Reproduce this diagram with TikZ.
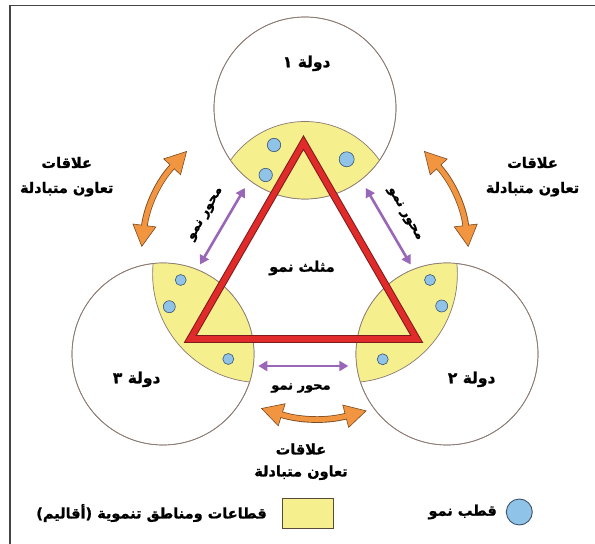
\documentclass[tikz,border=0pt]{standalone}
\usepackage{fontspec}
\newfontfamily\arabicfont[Script=Arabic,FakeBold=1.2]{DejaVu Sans Bold}
\TeXXeTstate=1
\usetikzlibrary{arrows.meta}
\definecolor{framec}{HTML}{444444}
\definecolor{linec}{HTML}{8A7A72}
\definecolor{yellowc}{HTML}{F5EF8E}
\definecolor{bluec}{HTML}{8FC3E8}
\definecolor{bluedark}{HTML}{3D5470}
\definecolor{redc}{HTML}{E12A2A}
\definecolor{darkredc}{HTML}{7A1C1C}
\definecolor{purplec}{HTML}{9A66B8}
\definecolor{orangec}{HTML}{F29540}
\definecolor{brownc}{HTML}{7A4A20}
\definecolor{legbox}{HTML}{5A4A3A}
\tikzset{
  country/.style={circle, draw=linec, line width=0.7pt, fill=white, inner sep=0pt, minimum size=182pt},
  lensline/.style={draw=linec, line width=0.7pt},
  pole/.style={circle, draw=bluedark, fill=bluec, line width=0.6pt, inner sep=0pt, minimum size=#1},
  lbl/.style={font=\arabicfont\fontsize{14.5}{17}\selectfont, inner sep=1pt, align=center, text=black},
  biglbl/.style={font=\arabicfont\fontsize{15.5}{18}\selectfont, inner sep=1pt, text=black},
  axlbl/.style={font=\arabicfont\fontsize{13}{15}\selectfont, inner sep=1pt, text=black},
  paxis/.style={draw=purplec, line width=2.6pt, {Triangle[length=9pt,width=10pt]}-{Triangle[length=9pt,width=10pt]}},
  otips/.style={draw=brownc, line width=0.6pt, {Triangle[length=22pt,width=24pt,fill=orangec]}-{Triangle[length=22pt,width=24pt,fill=orangec]}},
  oshaftout/.style={draw=brownc, line width=6.6pt, shorten <=21.5pt, shorten >=21.5pt},
  oshaftin/.style={draw=orangec, line width=5pt, shorten <=20.5pt, shorten >=20.5pt},
}
\begin{document}
\begin{tikzpicture}[x=1pt,y=1pt]
\useasboundingbox (0,0) rectangle (595,544);
\fill[white] (0,0) rectangle (595,544);
\draw[framec, line width=1.6pt] (10,0) -- (10,538.5) -- (595,538.5);

% countries
\node[country] (c1) at (305,436) {};
\node[country] (c2) at (447,190) {};
\node[country] (c3) at (163,190) {};
% development regions (lenses)
\begin{scope}
\clip (305,436) circle (91);
\fill[yellowc] (305,331.5) circle (91);
\draw[lensline] (305,331.5) circle (91);
\end{scope}
\begin{scope}
\clip (447,190) circle (91);
\fill[yellowc] (348.8,270) circle (108.6);
\draw[lensline] (348.8,270) circle (108.6);
\end{scope}
\begin{scope}
\clip (163,190) circle (91);
\fill[yellowc] (261.2,270) circle (108.6);
\draw[lensline] (261.2,270) circle (108.6);
\end{scope}
\draw[lensline] (c1.center) circle (91);
\draw[lensline] (c2.center) circle (91);
\draw[lensline] (c3.center) circle (91);

% growth poles
\node[pole=13.4pt] (p11) at (274,399) {};
\node[pole=13.4pt] (p12) at (265.7,369) {};
\node[pole=15pt] (p13) at (346.7,384.7) {};
\node[pole=11pt] (p31) at (180.7,264) {};
\node[pole=12pt] (p32) at (169.3,237.3) {};
\node[pole=11pt] (p33) at (228.3,185) {};
\node[pole=11pt] (p21) at (430,264) {};
\node[pole=12pt] (p22) at (441.7,238) {};
\node[pole=11pt] (p23) at (382.7,184.7) {};

% growth triangle
\coordinate (tA) at (303.5,401.4);
\coordinate (tB) at (190.3,205);
\coordinate (tC) at (416.7,205);
\draw[darkredc, line width=7.6pt, line join=miter] (tA) -- (tB) -- (tC) -- cycle;
\draw[redc, line width=5.6pt, line join=miter] (tA) -- (tB) -- (tC) -- cycle;

% growth axes
\coordinate (aL1) at (244.8,356);
\coordinate (aL2) at (200,279.5);
\coordinate (aR1) at (365.8,356);
\coordinate (aR2) at (410.6,279.5);
\coordinate (aB1) at (258.3,178);
\coordinate (aB2) at (348.3,178);
\draw[paxis] (aL1) -- (aL2);
\draw[paxis] (aR1) -- (aR2);
\draw[paxis] (aB1) -- (aB2);

% cooperation arrows
\coordinate (oL1) at (187,393);
\coordinate (oL2) at (141.7,297);
\coordinate (oR1) at (424,393);
\coordinate (oR2) at (468.3,297);
\coordinate (oB1) at (261,135.7);
\coordinate (oB2) at (366.7,133.3);
\draw[otips] (oL1) to[bend right=18] (oL2);
\draw[oshaftout] (oL1) to[bend right=18] (oL2);
\draw[oshaftin] (oL1) to[bend right=18] (oL2);
\draw[otips] (oR1) to[bend left=18] (oR2);
\draw[oshaftout] (oR1) to[bend left=18] (oR2);
\draw[oshaftin] (oR1) to[bend left=18] (oR2);
\draw[otips] (oB1) to[bend right=16] (oB2);
\draw[oshaftout] (oB1) to[bend right=16] (oB2);
\draw[oshaftin] (oB1) to[bend right=16] (oB2);

% labels
\node[biglbl] (n1) at (306.7,480.7) {\beginR دولة ١\endR};
\node[biglbl] (n2) at (471.7,164.7) {\beginR دولة ٢\endR};
\node[biglbl] (n3) at (136.7,164.7) {\beginR دولة ٣\endR};
\node[lbl] (tri) at (302,276) {\beginR مثلث نمو\endR};
\node[axlbl] (axB) at (301,156) {\beginR محور نمو\endR};
\node[axlbl, rotate=60] (axL) at (206,330) {\beginR محور نمو\endR};
\node[axlbl, rotate=-60] (axR) at (404.6,330) {\beginR محور نمو\endR};
\node[lbl] (rl) at (66.7,367.3) {\beginR علاقات\endR\\[8pt]\beginR تعاون متبادلة\endR};
\node[lbl] (rr) at (532.5,367.3) {\beginR علاقات\endR\\[8pt]\beginR تعاون متبادلة\endR};
\node[lbl] (rb) at (301,82.3) {\beginR علاقات\endR\\[5pt]\beginR تعاون متبادلة\endR};

% legend
\node[pole=26pt, line width=0.9pt] (legp) at (519.3,32) {};
\node[lbl, anchor=east] (legpt) at (498,32) {\beginR قطب نمو\endR};
\node[draw=legbox, fill=yellowc, line width=0.8pt, minimum width=51pt, minimum height=30pt, inner sep=0pt] (legy) at (307.4,31) {};
\node[lbl, anchor=east] (legyt) at (268,31) {\beginR قطاعات ومناطق تنموية (أقاليم)\endR};
\end{tikzpicture}
\end{document}
